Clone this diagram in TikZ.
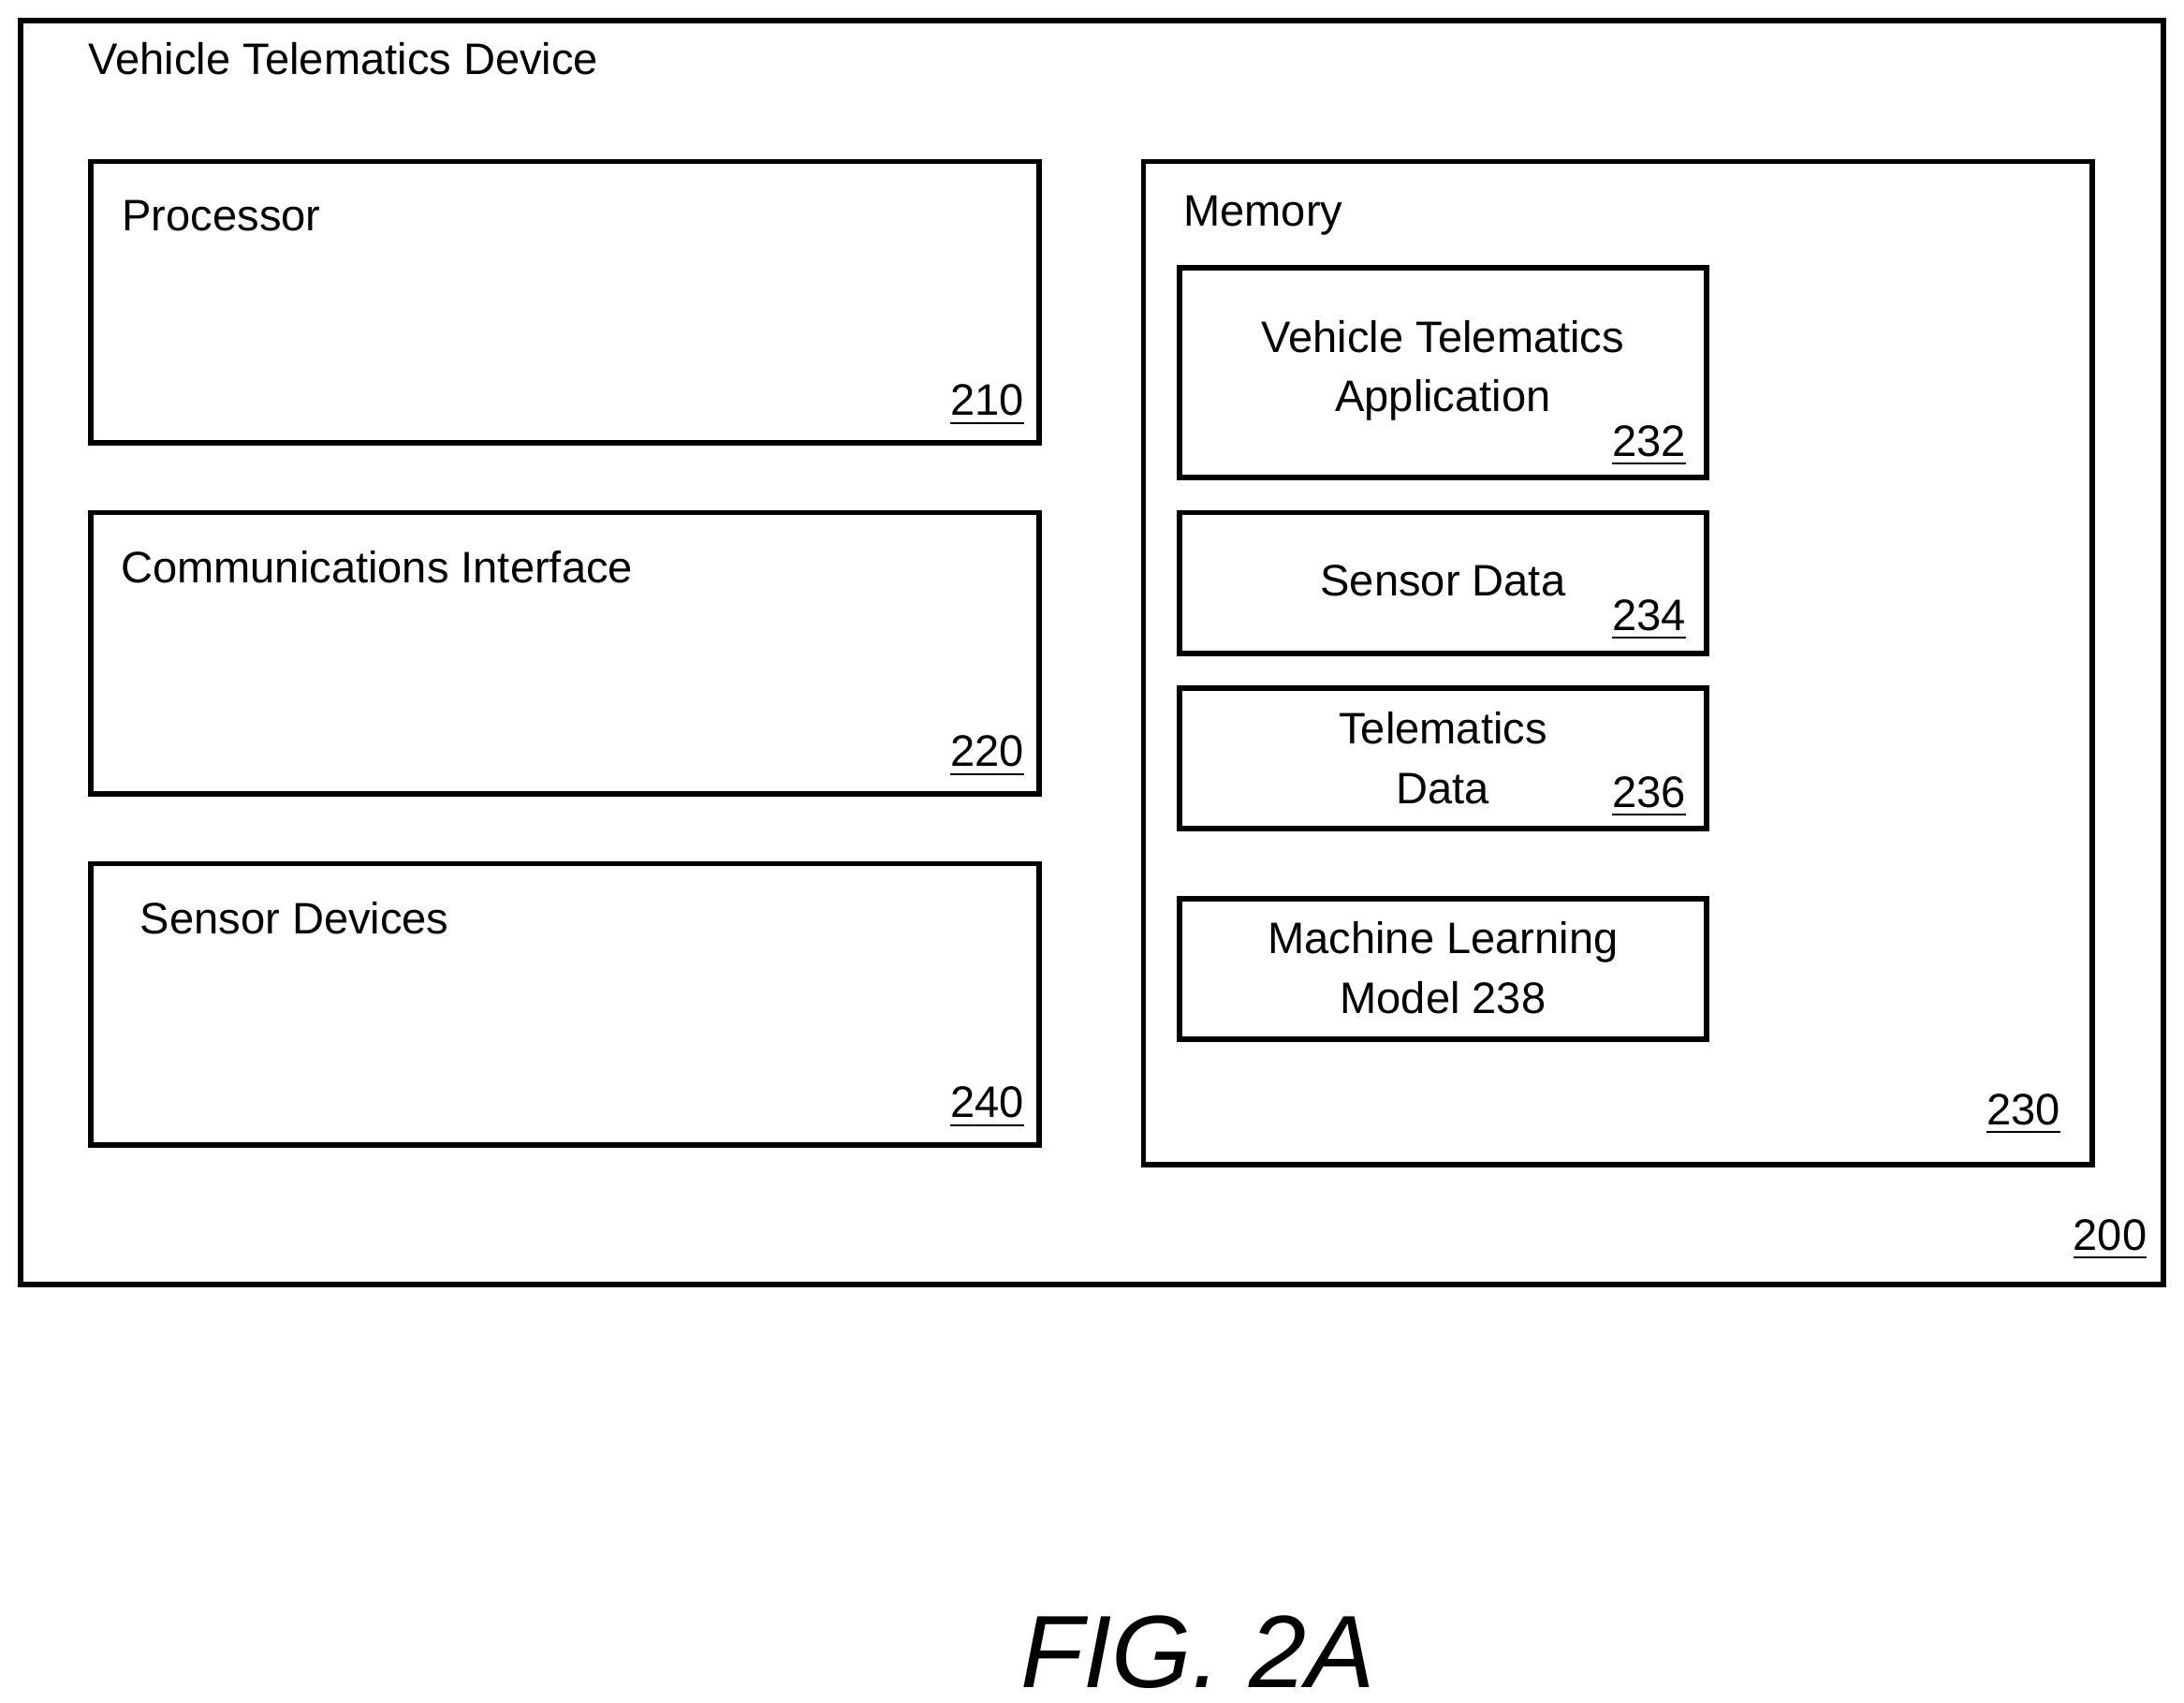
\documentclass[tikz,border=0pt]{standalone}
\usepackage{fontspec}
\setmainfont{Liberation Sans}
\begin{document}
\begin{tikzpicture}
			[x=0.01cm,y=-0.01cm,
			box/.style={draw,line width=1.1pt},
			lbl/.style={anchor=west,inner sep=0pt,font=\fontsize{9}{11}\selectfont},
			ref/.style={anchor=east,inner sep=0pt,font=\fontsize{9}{11}\selectfont},
			mid/.style={align=center,inner sep=0pt,font=\fontsize{9}{12.2}\selectfont}]
		\useasboundingbox (0,0) rectangle (1568,1222);
		% outer device
		\draw[box] (15,15) rectangle (1553,922);
		\node[lbl,name=dev] at (63,42) {Vehicle Telematics Device};
		\node[ref,name=n200] at (1542,890) {\underline{200}};
		% left column
		\draw[box] (65,116) rectangle (746,318);
		\node[lbl,name=proc] at (87,155) {Processor};
		\node[ref,name=n210] at (736,291) {\underline{210}};
		\draw[box] (65,368) rectangle (746,570);
		\node[lbl,name=comm] at (86,407) {Communications Interface};
		\node[ref,name=n220] at (736,543) {\underline{220}};
		\draw[box] (65,620) rectangle (746,822);
		\node[lbl,name=sens] at (100,659) {Sensor Devices};
		\node[ref,name=n240] at (736,795) {\underline{240}};
		% memory
		\draw[box] (821,116) rectangle (1502,836);
		\node[lbl,name=mem] at (849,155) {Memory};
		\node[ref,name=n230] at (1480,800) {\underline{230}};
		\draw[box] (847,192) rectangle (1225,343);
		\node[mid,name=app] at (1036,266) {Vehicle Telematics\\Application};
		\node[ref,name=n232] at (1211,320) {\underline{232}};
		\draw[box] (847,368) rectangle (1225,469);
		\node[mid,name=sdata] at (1036,417) {Sensor Data};
		\node[ref,name=n234] at (1211,445) {\underline{234}};
		\draw[box] (847,494) rectangle (1225,595);
		\node[mid,name=tdata] at (1036,544) {Telematics\\Data};
		\node[ref,name=n236] at (1211,572) {\underline{236}};
		\draw[box] (847,645) rectangle (1225,746);
		\node[mid,name=ml] at (1036,695) {Machine Learning\\Model 238};
		% figure label
		\node[inner sep=0pt,font=\fontsize{21}{24}\selectfont\itshape,name=fig] at (860,1186) {FIG. 2A};
		\end{tikzpicture}
\end{document}
